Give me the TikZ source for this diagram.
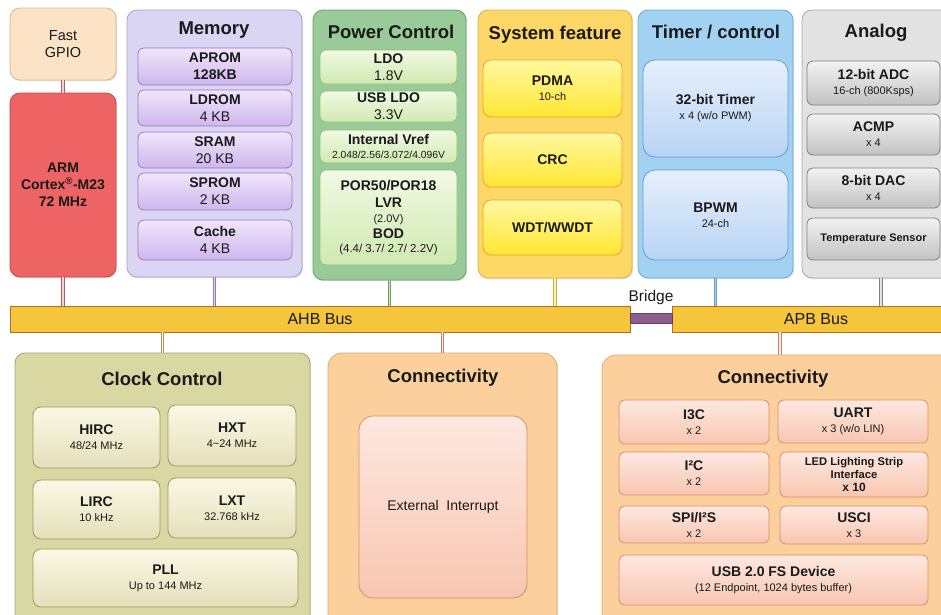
\documentclass[tikz,border=0pt]{standalone}
\usepackage{fontspec}
\setmainfont{Liberation Sans}
\usetikzlibrary{shadows}
\definecolor{txt}{HTML}{1A1A1A}
\definecolor{gpioF}{HTML}{FCE3C6}\definecolor{gpioD}{HTML}{D8B890}
\definecolor{armF}{HTML}{EE6464}\definecolor{armD}{HTML}{C04848}
\definecolor{memF}{HTML}{D9D5F2}\definecolor{memD}{HTML}{A8A0D0}
\definecolor{memT}{HTML}{F0E6FB}\definecolor{memB}{HTML}{CEB6EC}\definecolor{memE}{HTML}{9A78C0}
\definecolor{powF}{HTML}{99CB99}\definecolor{powD}{HTML}{6AA06A}
\definecolor{powT}{HTML}{F2F9E4}\definecolor{powB}{HTML}{CFEAB0}\definecolor{powE}{HTML}{90C070}
\definecolor{sysF}{HTML}{FED866}\definecolor{sysD}{HTML}{E0B040}
\definecolor{sysT}{HTML}{FFF8A0}\definecolor{sysB}{HTML}{FFE632}\definecolor{sysE}{HTML}{F0A030}
\definecolor{timF}{HTML}{A2D2F2}\definecolor{timD}{HTML}{70A8D8}
\definecolor{timT}{HTML}{E6EFFC}\definecolor{timB}{HTML}{B8D4F4}\definecolor{timE}{HTML}{6A98D0}
\definecolor{anaF}{HTML}{E2E2E2}\definecolor{anaD}{HTML}{A8A8A8}
\definecolor{anaT}{HTML}{F2F2F2}\definecolor{anaB}{HTML}{C2C2C2}\definecolor{anaE}{HTML}{808080}
\definecolor{busF}{HTML}{F5C53C}\definecolor{busD}{HTML}{B86A20}\definecolor{brF}{HTML}{8E5C8E}
\definecolor{clkF}{HTML}{D9D7A2}\definecolor{clkD}{HTML}{A8A470}
\definecolor{clkT}{HTML}{FAF8E6}\definecolor{clkB}{HTML}{E4E0BA}\definecolor{clkE}{HTML}{A09860}
\definecolor{conF}{HTML}{FCD09C}\definecolor{conD}{HTML}{E4A868}
\definecolor{conT}{HTML}{FDE8E0}\definecolor{conB}{HTML}{F8C6B0}\definecolor{conE}{HTML}{E08A6A}
\newcommand\blk[7]{\node[#2, minimum width={(#5-#3)*1pt}, minimum height={(#6-#4)*1pt}] (#1) at ({(#3+#5)/2},{(#4+#6)/2}) {#7};}
\newcommand\fTi{\fontsize{18.5}{22}\selectfont\bfseries}
\newcommand\fsub{\fontsize{11}{13}\selectfont\mdseries}
\newcommand\nl{\\[-2pt]}
\tikzset{
 base/.style={align=center, inner sep=0pt, text=txt, font=\fontsize{14}{17}\selectfont\bfseries},
 panel/.style={base, rounded corners=10pt, line width=0.8pt, drop shadow={shadow xshift=1.2pt, shadow yshift=-1.2pt, opacity=0.25}},
 inbox/.style={base, rounded corners=6pt, line width=0.8pt},
 ttl/.style={text=txt, font=\fTi, inner sep=0pt},
 gpiost/.style={panel, fill=gpioF, draw=gpioD, font=\fontsize{14.5}{17}\selectfont},
 armst/.style={panel, fill=armF, draw=armD, font=\fontsize{14}{17}\selectfont\bfseries},
 memP/.style={panel, fill=memF, draw=memD},
 memI/.style={inbox, top color=memT, bottom color=memB, draw=memE},
 powP/.style={panel, fill=powF, draw=powD},
 powI/.style={inbox, top color=powT, bottom color=powB, draw=powE},
 sysP/.style={panel, fill=sysF, draw=sysD},
 sysI/.style={inbox, top color=sysT, bottom color=sysB, draw=sysE, rounded corners=8pt},
 timP/.style={panel, fill=timF, draw=timD},
 timI/.style={inbox, top color=timT, bottom color=timB, draw=timE, rounded corners=12pt},
 anaP/.style={panel, fill=anaF, draw=anaD},
 anaI/.style={inbox, top color=anaT, bottom color=anaB, draw=anaE},
 busst/.style={base, fill=busF, draw=busD, line width=0.8pt, font=\fontsize{16}{18}\selectfont\mdseries},
 bridgest/.style={fill=brF, draw=brF!70!black, line width=0.5pt, inner sep=0pt},
 clkP/.style={panel, fill=clkF, draw=clkD},
 clkI/.style={inbox, top color=clkT, bottom color=clkB, draw=clkE, rounded corners=8pt},
 conP/.style={panel, fill=conF, draw=conD, rounded corners=14pt},
 conI/.style={inbox, top color=conT, bottom color=conB, draw=conE},
 link/.style={line width=0.7pt, double distance=1.8pt},
}
\begin{document}
\begin{tikzpicture}[x=1pt,y=-1pt]
\useasboundingbox[fill=white] (0,0) rectangle (941,614);
% top row
\blk{gpio}{gpiost}{10}{8}{116}{80}{Fast\\GPIO}
\blk{arm}{armst}{10}{93}{116}{277}{ARM\\Cortex\textsuperscript{®}-M23\\72 MHz}
\blk{mem}{memP}{127}{10}{302}{277}{}
\node[ttl] (memT) at (214,30) {Memory};
\blk{aprom}{memI}{138}{48}{292}{85}{APROM\\128KB}
\blk{ldrom}{memI}{138}{90}{292}{126}{LDROM\\\mdseries 4 KB}
\blk{sram}{memI}{138}{132}{292}{168}{SRAM\\\mdseries 20 KB}
\blk{sprom}{memI}{138}{173}{292}{210}{SPROM\\\mdseries 2 KB}
\blk{cache}{memI}{138}{220}{292}{260}{Cache\\\mdseries 4 KB}
\blk{pow}{powP}{313}{10}{466}{280}{}
\node[ttl] (powT) at (391,32) {Power Control};
\blk{ldo}{powI}{320}{50}{457}{84}{LDO\\\mdseries 1.8V}
\blk{usbldo}{powI}{320}{91}{457}{122}{USB LDO\\\mdseries 3.3V}
\blk{vref}{powI}{320}{130}{457}{163}{Internal Vref\\[-3pt]\fontsize{10.3}{12}\selectfont\mdseries 2.048/2.56/3.072/4.096V}
\blk{por}{powI}{320}{170}{457}{265}{POR50/POR18\\LVR\nl\fsub (2.0V)\\[-1pt]BOD\\[-3pt]\fontsize{11.5}{13}\selectfont\mdseries (4.4/ 3.7/ 2.7/ 2.2V)}
\blk{sys}{sysP}{478}{10}{632}{278}{}
\node[ttl] (sysT) at (555,35) {System feature};
\blk{pdma}{sysI}{483}{60}{622}{117}{PDMA\nl\fsub 10-ch}
\blk{crc}{sysI}{483}{133}{622}{187}{CRC}
\blk{wdt}{sysI}{483}{200}{622}{255}{WDT/WWDT}
\blk{tim}{timP}{638}{10}{793}{278}{}
\node[ttl] (timT) at (716,32) {Timer / control};
\blk{timer}{timI}{643}{60}{788}{157}{32-bit Timer\nl\fsub x 4 (w/o PWM)}
\blk{bpwm}{timI}{643}{170}{788}{260}{BPWM\nl\fsub 24-ch}
\blk{ana}{anaP}{802}{10}{960}{278}{}
\node[ttl] (anaT) at (876,33) {Analog};
\blk{adc}{anaI}{807}{61}{940}{105}{12-bit ADC\nl\fsub 16-ch (800Ksps)}
\blk{acmp}{anaI}{807}{114}{940}{155}{ACMP\nl\fsub x 4}
\blk{dac}{anaI}{807}{168}{940}{208}{8-bit DAC\nl\fsub x 4}
\blk{temp}{anaI, font=\fontsize{11}{13}\selectfont\bfseries}{807}{218}{940}{260}{Temperature Sensor}
% bus
\blk{ahb}{busst}{10}{306}{630}{332}{AHB Bus}
\blk{apb}{busst}{672}{306}{960}{332}{APB Bus}
\blk{bridge}{bridgest}{630}{313}{672}{323}{}
\node[font=\fontsize{15.5}{18}\selectfont, text=txt, inner sep=0pt] (brT) at (651,297) {Bridge};
% bottom row
\blk{clk}{clkP}{15}{353}{310}{630}{}
\node[ttl] (clkT) at (162,379) {Clock Control};
\blk{hirc}{clkI}{33}{407}{160}{468}{HIRC\nl\fsub 48/24 MHz}
\blk{hxt}{clkI}{168}{405}{296}{466}{HXT\nl\fsub 4\textasciitilde 24 MHz}
\blk{lirc}{clkI}{33}{480}{160}{539}{LIRC\nl\fsub 10 kHz}
\blk{lxt}{clkI}{168}{478}{296}{538}{LXT\nl\fsub 32.768 kHz}
\blk{pll}{clkI}{33}{549}{298}{607}{PLL\nl\fsub Up to 144 MHz}
\blk{conM}{conP}{328}{353}{557}{630}{}
\node[ttl] (conMT) at (443,378) {Connectivity};
\blk{eint}{conI, font=\fontsize{14}{17}\selectfont\mdseries, rounded corners=14pt}{359}{416}{527}{598}{External\ \ Interrupt}
\blk{conR}{conP}{602}{355}{958}{630}{}
\node[ttl] (conRT) at (773,379) {Connectivity};
\blk{i3c}{conI}{619}{400}{769}{444}{I3C\nl\fsub x 2}
\blk{uart}{conI}{778}{400}{928}{443}{UART\nl\fsub x 3 (w/o LIN)}
\blk{i2c}{conI}{619}{452}{769}{495}{I²C\nl\fsub x 2}
\blk{led}{conI, font=\fontsize{11.2}{13}\selectfont\bfseries}{780}{452}{928}{497}{LED Lighting Strip\\Interface\\\fontsize{12}{13}\selectfont x 10}
\blk{spi}{conI}{619}{506}{769}{543}{SPI/I²S\nl\fsub x 2}
\blk{usci}{conI}{780}{506}{928}{544}{USCI\nl\fsub x 3}
\blk{usb}{conI}{619}{555}{928}{605}{USB 2.0 FS Device\nl\fsub (12 Endpoint, 1024 bytes buffer)}
% connectors
\coordinate (xR) at (780,0);
\draw[link, draw=armD!50!gray, double=armF!30!white] (gpio.south) -- (arm.north);
\draw[link, draw=armD!50!gray, double=armF!30!white] (arm.south) -- (arm.south |- ahb.north);
\draw[link, draw=memE!80!gray, double=memF] (mem.south) -- (mem.south |- ahb.north);
\draw[link, draw=powD, double=powB] (pow.south) -- (pow.south |- ahb.north);
\draw[link, draw=sysD!80!gray, double=sysT] (sys.south) -- (sys.south |- ahb.north);
\draw[link, draw=timE, double=timF] (tim.south) -- (tim.south |- apb.north);
\draw[link, draw=anaE, double=anaF] (ana.south) -- (ana.south |- apb.north);
\draw[link, draw=clkE, double=clkT] (clk.north |- ahb.south) -- (clk.north);
\draw[link, draw=conE!60!gray, double=conF!50!white] (conM.north |- ahb.south) -- (conM.north);
\draw[link, draw=conE!60!gray, double=conF!50!white] (xR |- apb.south) -- (xR |- conR.north);
\end{tikzpicture}
\end{document}
